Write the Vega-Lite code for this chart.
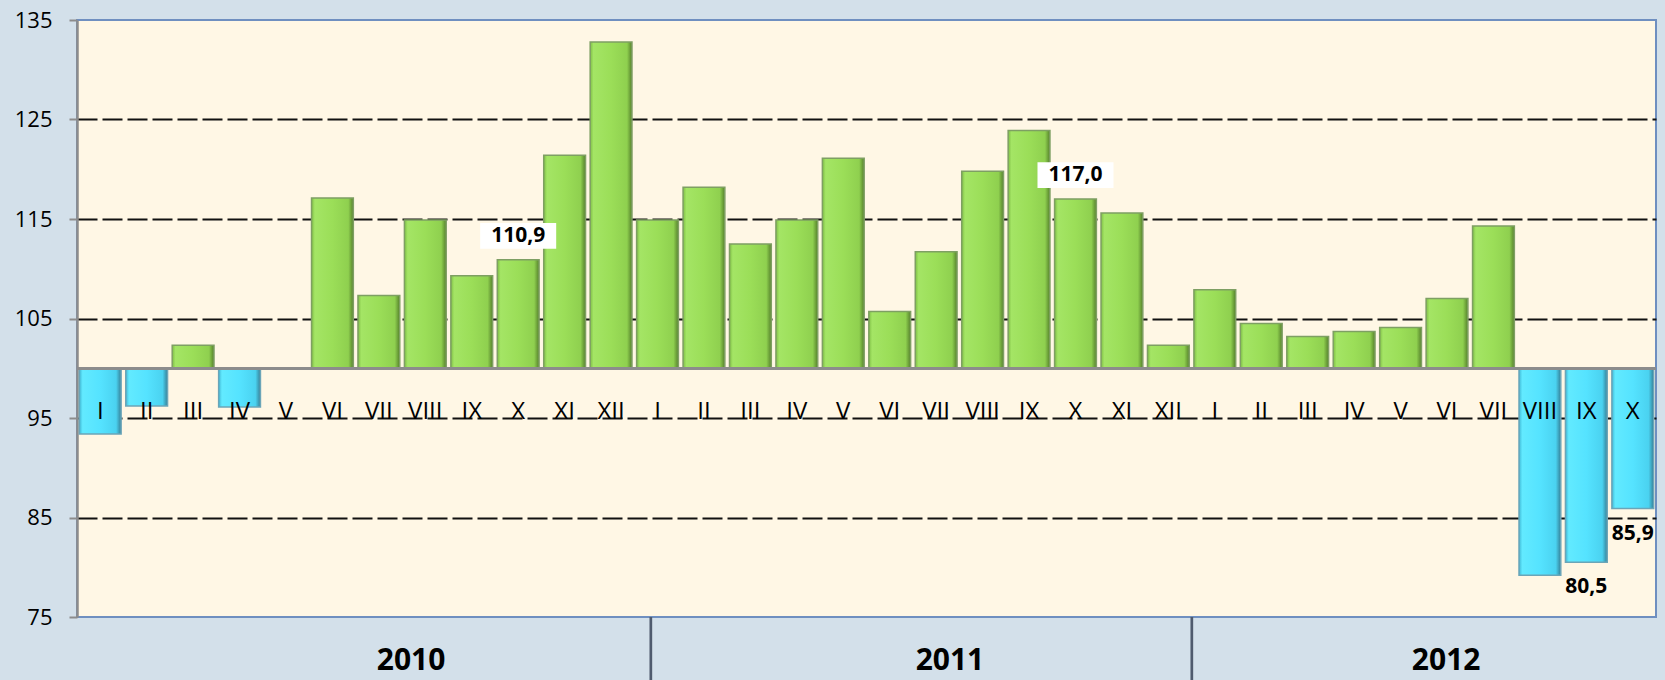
{
 "$schema": "https://vega.github.io/schema/vega-lite/v6.json",
 "width": 1579,
 "height": 597,
 "autosize": {"type": "none"},
 "padding": {"left": 77, "top": 20, "right": 9, "bottom": 63},
 "background": "#D3E0EA",
 "config": {"view": {"fill": "#FFF7E5", "stroke": "#6F8FC0", "strokeWidth": 2}, "font": "Open Sans"},
 "data": {"values": [
  {"key": "2010-I", "month": "I", "value": 93.4},
  {"key": "2010-II", "month": "II", "value": 96.2},
  {"key": "2010-III", "month": "III", "value": 102.3},
  {"key": "2010-IV", "month": "IV", "value": 96.1},
  {"key": "2010-V", "month": "V", "value": 100.0},
  {"key": "2010-VI", "month": "VI", "value": 117.1},
  {"key": "2010-VII", "month": "VII", "value": 107.3},
  {"key": "2010-VIII", "month": "VIII", "value": 114.9},
  {"key": "2010-IX", "month": "IX", "value": 109.3},
  {"key": "2010-X", "month": "X", "value": 110.9, "lab": "110,9"},
  {"key": "2010-XI", "month": "XI", "value": 121.4},
  {"key": "2010-XII", "month": "XII", "value": 132.8},
  {"key": "2011-I", "month": "I", "value": 114.9},
  {"key": "2011-II", "month": "II", "value": 118.2},
  {"key": "2011-III", "month": "III", "value": 112.5},
  {"key": "2011-IV", "month": "IV", "value": 114.9},
  {"key": "2011-V", "month": "V", "value": 121.1},
  {"key": "2011-VI", "month": "VI", "value": 105.7},
  {"key": "2011-VII", "month": "VII", "value": 111.7},
  {"key": "2011-VIII", "month": "VIII", "value": 119.8},
  {"key": "2011-IX", "month": "IX", "value": 123.9},
  {"key": "2011-X", "month": "X", "value": 117.0, "lab": "117,0"},
  {"key": "2011-XI", "month": "XI", "value": 115.6},
  {"key": "2011-XII", "month": "XII", "value": 102.3},
  {"key": "2012-I", "month": "I", "value": 107.9},
  {"key": "2012-II", "month": "II", "value": 104.5},
  {"key": "2012-III", "month": "III", "value": 103.2},
  {"key": "2012-IV", "month": "IV", "value": 103.7},
  {"key": "2012-V", "month": "V", "value": 104.1},
  {"key": "2012-VI", "month": "VI", "value": 107.0},
  {"key": "2012-VII", "month": "VII", "value": 114.3},
  {"key": "2012-VIII", "month": "VIII", "value": 79.2},
  {"key": "2012-IX", "month": "IX", "value": 80.5, "lab": "80,5"},
  {"key": "2012-X", "month": "X", "value": 85.9, "lab": "85,9"}
 ]},
 "layer": [
  {
   "mark": {"type": "bar", "strokeWidth": 1.5},
   "encoding": {
    "x": {"field": "key", "type": "nominal", "sort": null,
     "scale": {"paddingInner": 0.1, "paddingOuter": 0.05, "domain": ["2010-I","2010-II","2010-III","2010-IV","2010-V","2010-VI","2010-VII","2010-VIII","2010-IX","2010-X","2010-XI","2010-XII","2011-I","2011-II","2011-III","2011-IV","2011-V","2011-VI","2011-VII","2011-VIII","2011-IX","2011-X","2011-XI","2011-XII","2012-I","2012-II","2012-III","2012-IV","2012-V","2012-VI","2012-VII","2012-VIII","2012-IX","2012-X"]},
     "axis": {"orient": "bottom", "offset": -248.8, "labels": false, "domain": false, "ticks": true, "tickSize": 7, "tickColor": "#8c8c8c", "tickWidth": 2, "bandPosition": 0, "title": null, "grid": false}},
    "y": {"field": "value", "type": "quantitative",
     "scale": {"domain": [75, 135], "nice": false, "zero": false},
     "axis": {"values": [75, 85, 95, 105, 115, 125, 135], "title": null, "labelFontSize": 22, "labelColor": "#000", "labelFont": "Open Sans", "tickSize": 8, "tickColor": "#8c8c8c", "tickWidth": 2, "domainColor": "#8c8c8c", "domainWidth": 2.5, "labelPadding": 17, "grid": true, "gridColor": "#111111", "gridWidth": 2, "gridDash": [20, 5],
      "gridOpacity": {"condition": {"test": "datum.value == 75 || datum.value == 135", "value": 0}, "value": 1}}},
    "y2": {"datum": 100},
    "fill": {"condition": {"test": "datum.value < 100", "value": {"gradient": "linear", "x1": 0, "y1": 0, "x2": 1, "y2": 0, "stops": [{"offset": 0, "color": "#3FB8D6"}, {"offset": 0.08, "color": "#62EAFF"}, {"offset": 0.5, "color": "#55E3FF"}, {"offset": 0.88, "color": "#4AD2F0"}, {"offset": 1, "color": "#357F96"}]}},
     "value": {"gradient": "linear", "x1": 0, "y1": 0, "x2": 1, "y2": 0, "stops": [{"offset": 0, "color": "#7FBF45"}, {"offset": 0.08, "color": "#A4E565"}, {"offset": 0.5, "color": "#9BDE58"}, {"offset": 0.88, "color": "#8FD04F"}, {"offset": 1, "color": "#55802B"}]}},
    "stroke": {"condition": {"test": "datum.value < 100", "value": "#6BA5B8"}, "value": "#7E9F63"}
   }
  },
  {
   "mark": {"type": "rule", "color": "#8c8c8c", "strokeWidth": 2.5},
   "encoding": {"y": {"datum": 100}}
  },
  {
   "mark": {"type": "text", "fontSize": 24, "baseline": "alphabetic", "color": "#000", "dy": 1},
   "encoding": {
    "x": {"field": "key", "type": "nominal", "sort": null, "axis": null},
    "y": {"datum": 95},
    "text": {"field": "month"}
   }
  },
  {
   "transform": [{"filter": "datum.lab != null && datum.value > 100"}],
   "mark": {"type": "point", "shape": "M-1,-0.34H1V0.34H-1Z", "size": 5776, "filled": true, "fill": "#ffffff", "opacity": 1, "strokeWidth": 0, "yOffset": -24},
   "encoding": {
    "x": {"field": "key", "type": "nominal", "sort": null, "axis": null},
    "y": {"field": "value", "type": "quantitative"}
   }
  },
  {
   "transform": [{"filter": "datum.lab != null && datum.value > 100"}],
   "mark": {"type": "text", "fontSize": 21, "fontWeight": "bold", "baseline": "middle", "color": "#000", "dy": -24},
   "encoding": {
    "x": {"field": "key", "type": "nominal", "sort": null, "axis": null},
    "y": {"field": "value", "type": "quantitative"},
    "text": {"field": "lab"}
   }
  },
  {
   "transform": [{"filter": "datum.lab != null && datum.value < 100"}],
   "mark": {"type": "text", "fontSize": 21, "fontWeight": "bold", "baseline": "middle", "color": "#000", "dy": 25},
   "encoding": {
    "x": {"field": "key", "type": "nominal", "sort": null, "axis": null},
    "y": {"field": "value", "type": "quantitative"},
    "text": {"field": "lab"}
   }
  },
  {
   "data": {"values": [{"key": "2011-I"}]},
   "mark": {"type": "rule", "color": "#4F5B6E", "strokeWidth": 2.7, "y2Offset": 63},
   "encoding": {
    "x": {"field": "key", "type": "nominal", "sort": null, "axis": null, "bandPosition": 0.34},
    "y": {"datum": 75},
    "y2": {"datum": 75}
   }
  },
  {
   "data": {"values": [{"key": "2012-I"}]},
   "mark": {"type": "rule", "color": "#4F5B6E", "strokeWidth": 2.7, "y2Offset": 63},
   "encoding": {
    "x": {"field": "key", "type": "nominal", "sort": null, "axis": null, "bandPosition": -0.05},
    "y": {"datum": 75},
    "y2": {"datum": 75}
   }
  },
  {
   "data": {"values": [{"key": "2010-VIII", "year": "2010"}]},
   "mark": {"type": "text", "fontSize": 30, "fontWeight": "bold", "baseline": "alphabetic", "color": "#000", "dy": 53},
   "encoding": {
    "x": {"field": "key", "type": "nominal", "sort": null, "axis": null, "bandPosition": 0.16},
    "y": {"datum": 75},
    "text": {"field": "year"}
   }
  },
  {
   "data": {"values": [{"key": "2011-VII", "year": "2011"}]},
   "mark": {"type": "text", "fontSize": 30, "fontWeight": "bold", "baseline": "alphabetic", "color": "#000", "dy": 53},
   "encoding": {
    "x": {"field": "key", "type": "nominal", "sort": null, "axis": null, "bandPosition": 0.83},
    "y": {"datum": 75},
    "text": {"field": "year"}
   }
  },
  {
   "data": {"values": [{"key": "2012-VI", "year": "2012"}]},
   "mark": {"type": "text", "fontSize": 30, "fontWeight": "bold", "baseline": "alphabetic", "color": "#000", "dy": 53},
   "encoding": {
    "x": {"field": "key", "type": "nominal", "sort": null, "axis": null, "bandPosition": 0.48},
    "y": {"datum": 75},
    "text": {"field": "year"}
   }
  }
 ]
}
